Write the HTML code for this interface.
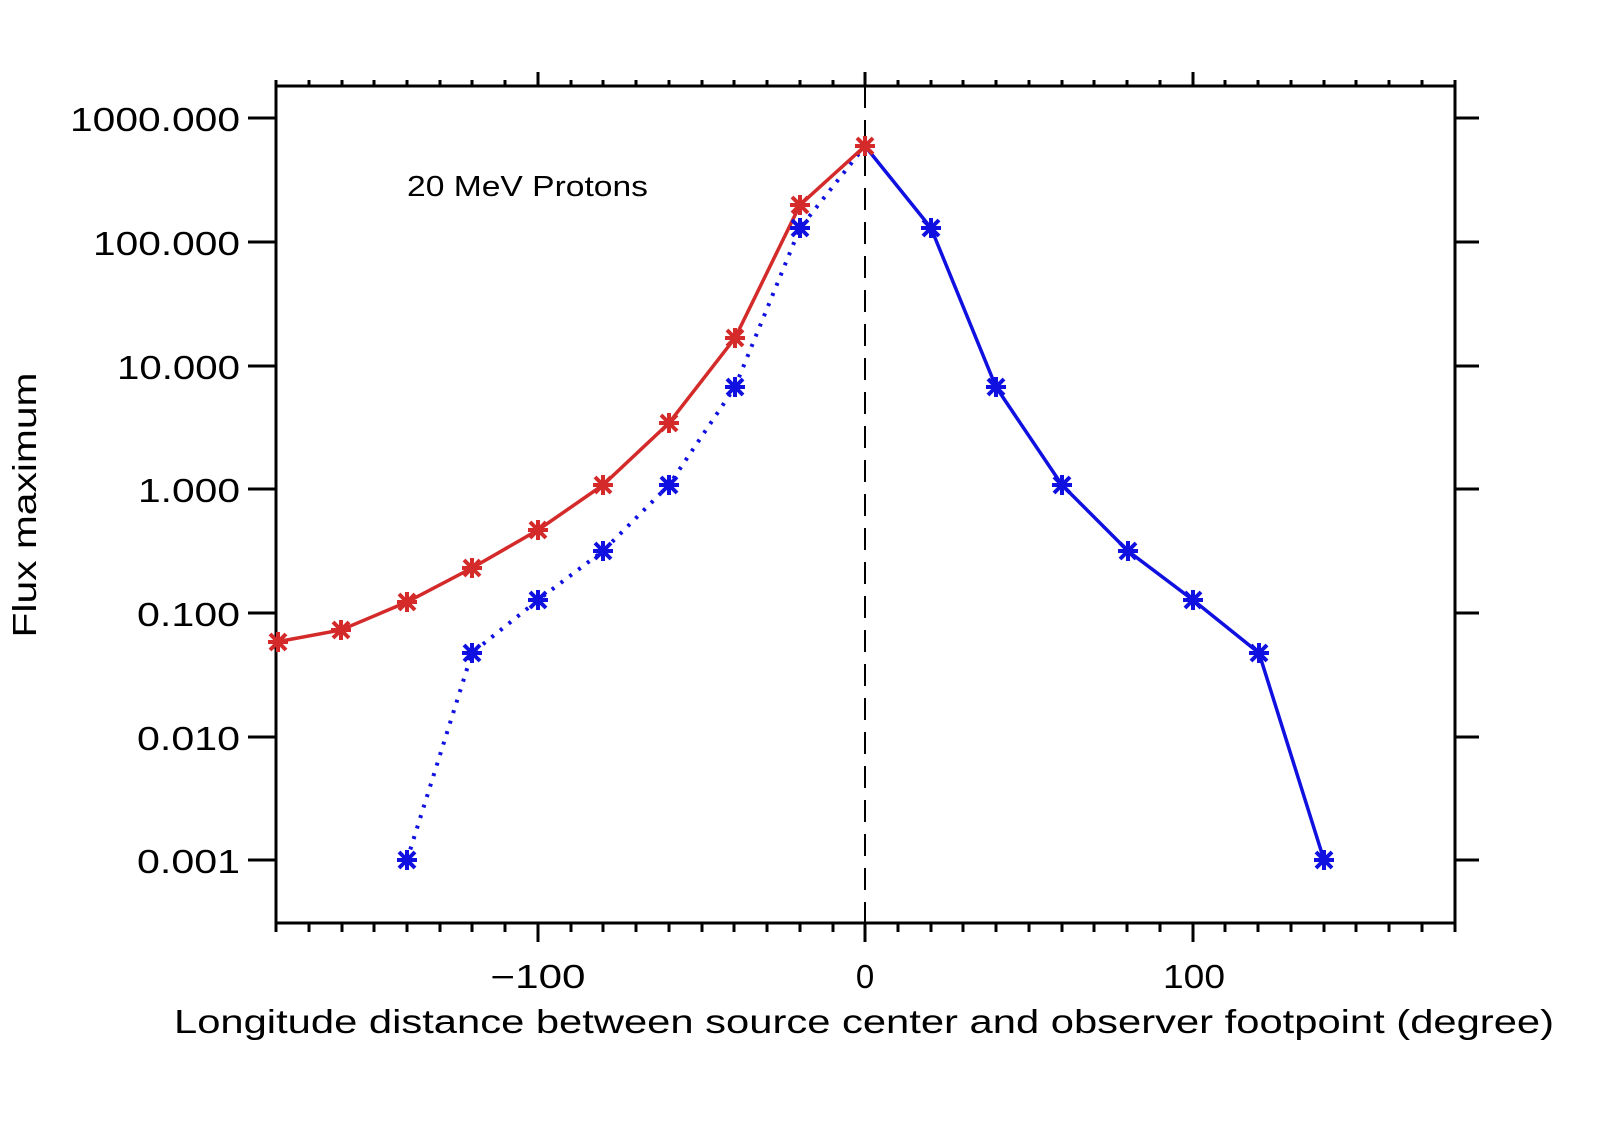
<!DOCTYPE html>
<html><head><style>body{margin:0;background:#fff}</style></head><body>
<svg width="1600" height="1131" xmlns="http://www.w3.org/2000/svg" font-family="Liberation Sans, DejaVu Sans, sans-serif">
<rect width="1600" height="1131" fill="#fff"/>
<rect x="276" y="86" width="1179" height="837" fill="none" stroke="#000" stroke-width="3"/>
<g stroke="#000" stroke-width="3" id="t">
<path d="M276,86v-6M309,86v-6M342,86v-6M374,86v-6M407,86v-6M440,86v-6M472,86v-6M505,86v-6M538,86v-14M571,86v-6M603,86v-6M636,86v-6M669,86v-6M702,86v-6M734,86v-6M767,86v-6M800,86v-6M833,86v-6M865,86v-14M898,86v-6M931,86v-6M963,86v-6M996,86v-6M1029,86v-6M1062,86v-6M1094,86v-6M1127,86v-6M1160,86v-6M1193,86v-14M1225,86v-6M1258,86v-6M1291,86v-6M1324,86v-6M1356,86v-6M1389,86v-6M1422,86v-6M1455,86v-6"/>
<path d="M276,923v9M309,923v9M342,923v9M374,923v9M407,923v9M440,923v9M472,923v9M505,923v9M538,923v19M571,923v9M603,923v9M636,923v9M669,923v9M702,923v9M734,923v9M767,923v9M800,923v9M833,923v9M865,923v19M898,923v9M931,923v9M963,923v9M996,923v9M1029,923v9M1062,923v9M1094,923v9M1127,923v9M1160,923v9M1193,923v19M1225,923v9M1258,923v9M1291,923v9M1324,923v9M1356,923v9M1389,923v9M1422,923v9M1455,923v9"/>
<path d="M248,118h28M248,242h28M248,366h28M248,489h28M248,613h28M248,737h28M248,860h28"/>
<path d="M1455,118h24M1455,242h24M1455,366h24M1455,489h24M1455,613h24M1455,737h24M1455,860h24"/>
</g>
<line x1="865" y1="86" x2="865" y2="923" stroke="#000" stroke-width="2" stroke-dasharray="22,12"/>
<g font-size="33" text-anchor="end" fill="#000" lengthAdjust="spacingAndGlyphs">
<text x="240" y="131" textLength="170" lengthAdjust="spacingAndGlyphs">1000.000</text>
<text x="240" y="255" textLength="147" lengthAdjust="spacingAndGlyphs">100.000</text>
<text x="240" y="379" textLength="123" lengthAdjust="spacingAndGlyphs">10.000</text>
<text x="240" y="502" textLength="102" lengthAdjust="spacingAndGlyphs">1.000</text>
<text x="240" y="626" textLength="103" lengthAdjust="spacingAndGlyphs">0.100</text>
<text x="240" y="750" textLength="103" lengthAdjust="spacingAndGlyphs">0.010</text>
<text x="240" y="873" textLength="103" lengthAdjust="spacingAndGlyphs">0.001</text>
</g>
<g font-size="33" text-anchor="middle">
<text x="538" y="988" textLength="95" lengthAdjust="spacingAndGlyphs">−100</text>
<text x="865" y="988">0</text>
<text x="1194" y="988" textLength="62" lengthAdjust="spacingAndGlyphs">100</text>
<text x="864" y="1033" textLength="1380" lengthAdjust="spacingAndGlyphs">Longitude distance between source center and observer footpoint (degree)</text>
<text transform="translate(36,505) rotate(-90)" textLength="265" lengthAdjust="spacingAndGlyphs">Flux maximum</text>
</g>
<text x="407" y="196" font-size="29" textLength="241" lengthAdjust="spacingAndGlyphs">20 MeV Protons</text>
<defs>
<g id="sr" stroke="#d42a2a" stroke-width="4"><path d="M-10,0h20M0,-10v20M-8,-8l16,16M-8,8l16,-16"/></g>
<g id="sb" stroke="#1010e0" stroke-width="4"><path d="M-10,0h20M0,-10v20M-8,-8l16,16M-8,8l16,-16"/></g>
</defs>
<polyline fill="none" stroke="#1010e0" stroke-width="4" stroke-dasharray="3,8" points="407,860 472,653 538,600 603,551 669,485 735,387 800,228 865,146"/>
<polyline fill="none" stroke="#1010e0" stroke-width="3.5" points="865,146 931,228 996,387 1062,485 1128,551 1193,600 1259,653 1324,860"/>
<polyline fill="none" stroke="#d42a2a" stroke-width="3.5" points="276,642 341,630 407,602 472,568 538,530 603,485 669,423 735,338 800,205 865,146"/>
<g>
<use href="#sb" x="407" y="860"/><use href="#sb" x="472" y="653"/><use href="#sb" x="538" y="600"/><use href="#sb" x="603" y="551"/><use href="#sb" x="669" y="485"/><use href="#sb" x="735" y="387"/><use href="#sb" x="800" y="228"/>
<use href="#sb" x="931" y="228"/><use href="#sb" x="996" y="387"/><use href="#sb" x="1062" y="485"/><use href="#sb" x="1128" y="551"/><use href="#sb" x="1193" y="600"/><use href="#sb" x="1259" y="653"/><use href="#sb" x="1324" y="860"/>
<use href="#sr" x="278" y="642"/><use href="#sr" x="341" y="630"/><use href="#sr" x="407" y="602"/><use href="#sr" x="472" y="568"/><use href="#sr" x="538" y="530"/><use href="#sr" x="603" y="485"/><use href="#sr" x="669" y="423"/><use href="#sr" x="735" y="338"/><use href="#sr" x="800" y="205"/><use href="#sr" x="865" y="146"/>
</g>
</svg>
</body></html>
